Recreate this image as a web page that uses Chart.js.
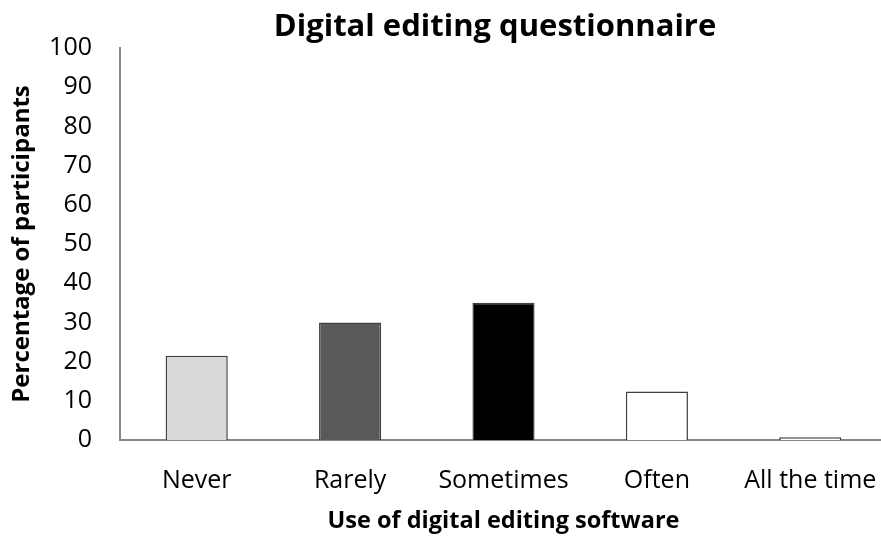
<!DOCTYPE html>
<html>
<head>
<meta charset="utf-8">
<script src="https://cdn.jsdelivr.net/npm/chart.js@4"></script>
<style>
html,body{margin:0;padding:0;background:#fff;overflow:hidden;}
#wrap{width:881px;height:537px;position:relative;overflow:hidden;}
</style>
</head>
<body>
<div id="wrap"><canvas id="c" width="887" height="537"></canvas></div>
<script>
const categories = ["Never", "Rarely", "Sometimes", "Often", "All the time"];
const percentages = [21.5, 30, 35, 12.4, 0.7];
const barColors = ["#d9d9d9", "#595959", "#000000", "#ffffff", "#ffffff"];
const yTicks = [0, 10, 20, 30, 40, 50, 60, 70, 80, 90, 100];
const chartTitle = "Digital editing questionnaire";

const FONT = "'Open Sans', sans-serif";

const titleOverArea = {
  id: 'titleOverArea',
  afterDraw(chart) {
    const ctx = chart.ctx;
    ctx.save();
    ctx.font = "bold 31px 'Open Sans', sans-serif";
    ctx.fillStyle = "#000";
    ctx.textAlign = "center";
    ctx.textBaseline = "middle";
    ctx.fillText(chartTitle, 495, 27);
    ctx.restore();
  }
};

new Chart(document.getElementById('c'), {
  type: 'bar',
  data: {
    labels: categories,
    datasets: [{
      data: percentages,
      backgroundColor: barColors,
      borderColor: "#404040",
      borderWidth: 1.5,
      barPercentage: 0.405,
      categoryPercentage: 1
    }]
  },
  plugins: [titleOverArea],
  options: {
    responsive: false,
    animation: false,
    devicePixelRatio: 1,
    layout: { padding: { left: 0, right: 0, top: 48, bottom: 0 } },
    plugins: {
      legend: { display: false },
      tooltip: { enabled: false },
      title: { display: false }
    },
    scales: {
      x: {
        grid: { display: false, drawTicks: false },
        border: { display: true, color: "#868686", width: 2 },
        ticks: { color: "#000", font: { family: FONT, size: 25 }, padding: 26 },
        title: {
          display: true,
          text: "Use of digital editing software",
          color: "#000",
          font: { family: FONT, size: 23.5, weight: 'bold' },
          padding: { top: 0, bottom: 2 }
        },
        afterFit: (s) => { s.height = 97; s.paddingLeft = 0; s.paddingRight = 0; }
      },
      y: {
        min: 0, max: 100,
        afterBuildTicks: (s) => { s.ticks = yTicks.map(v => ({ value: v })); },
        grid: { display: false, drawOnChartArea: false, drawTicks: true, tickLength: 9, color: "#868686", tickWidth: 2 },
        border: { display: true, color: "#868686", width: 2 },
        ticks: { color: "#000", font: { family: FONT, size: 25 }, padding: 19 },
        title: {
          display: true,
          text: "Percentage of participants",
          color: "#000",
          font: { family: FONT, size: 24, weight: 'bold' },
          padding: { top: 8, bottom: 0 }
        },
        afterFit: (s) => { s.width = 120; s.paddingTop = 0; s.paddingBottom = 0; }
      }
    }
  }
});
</script>
</body>
</html>
